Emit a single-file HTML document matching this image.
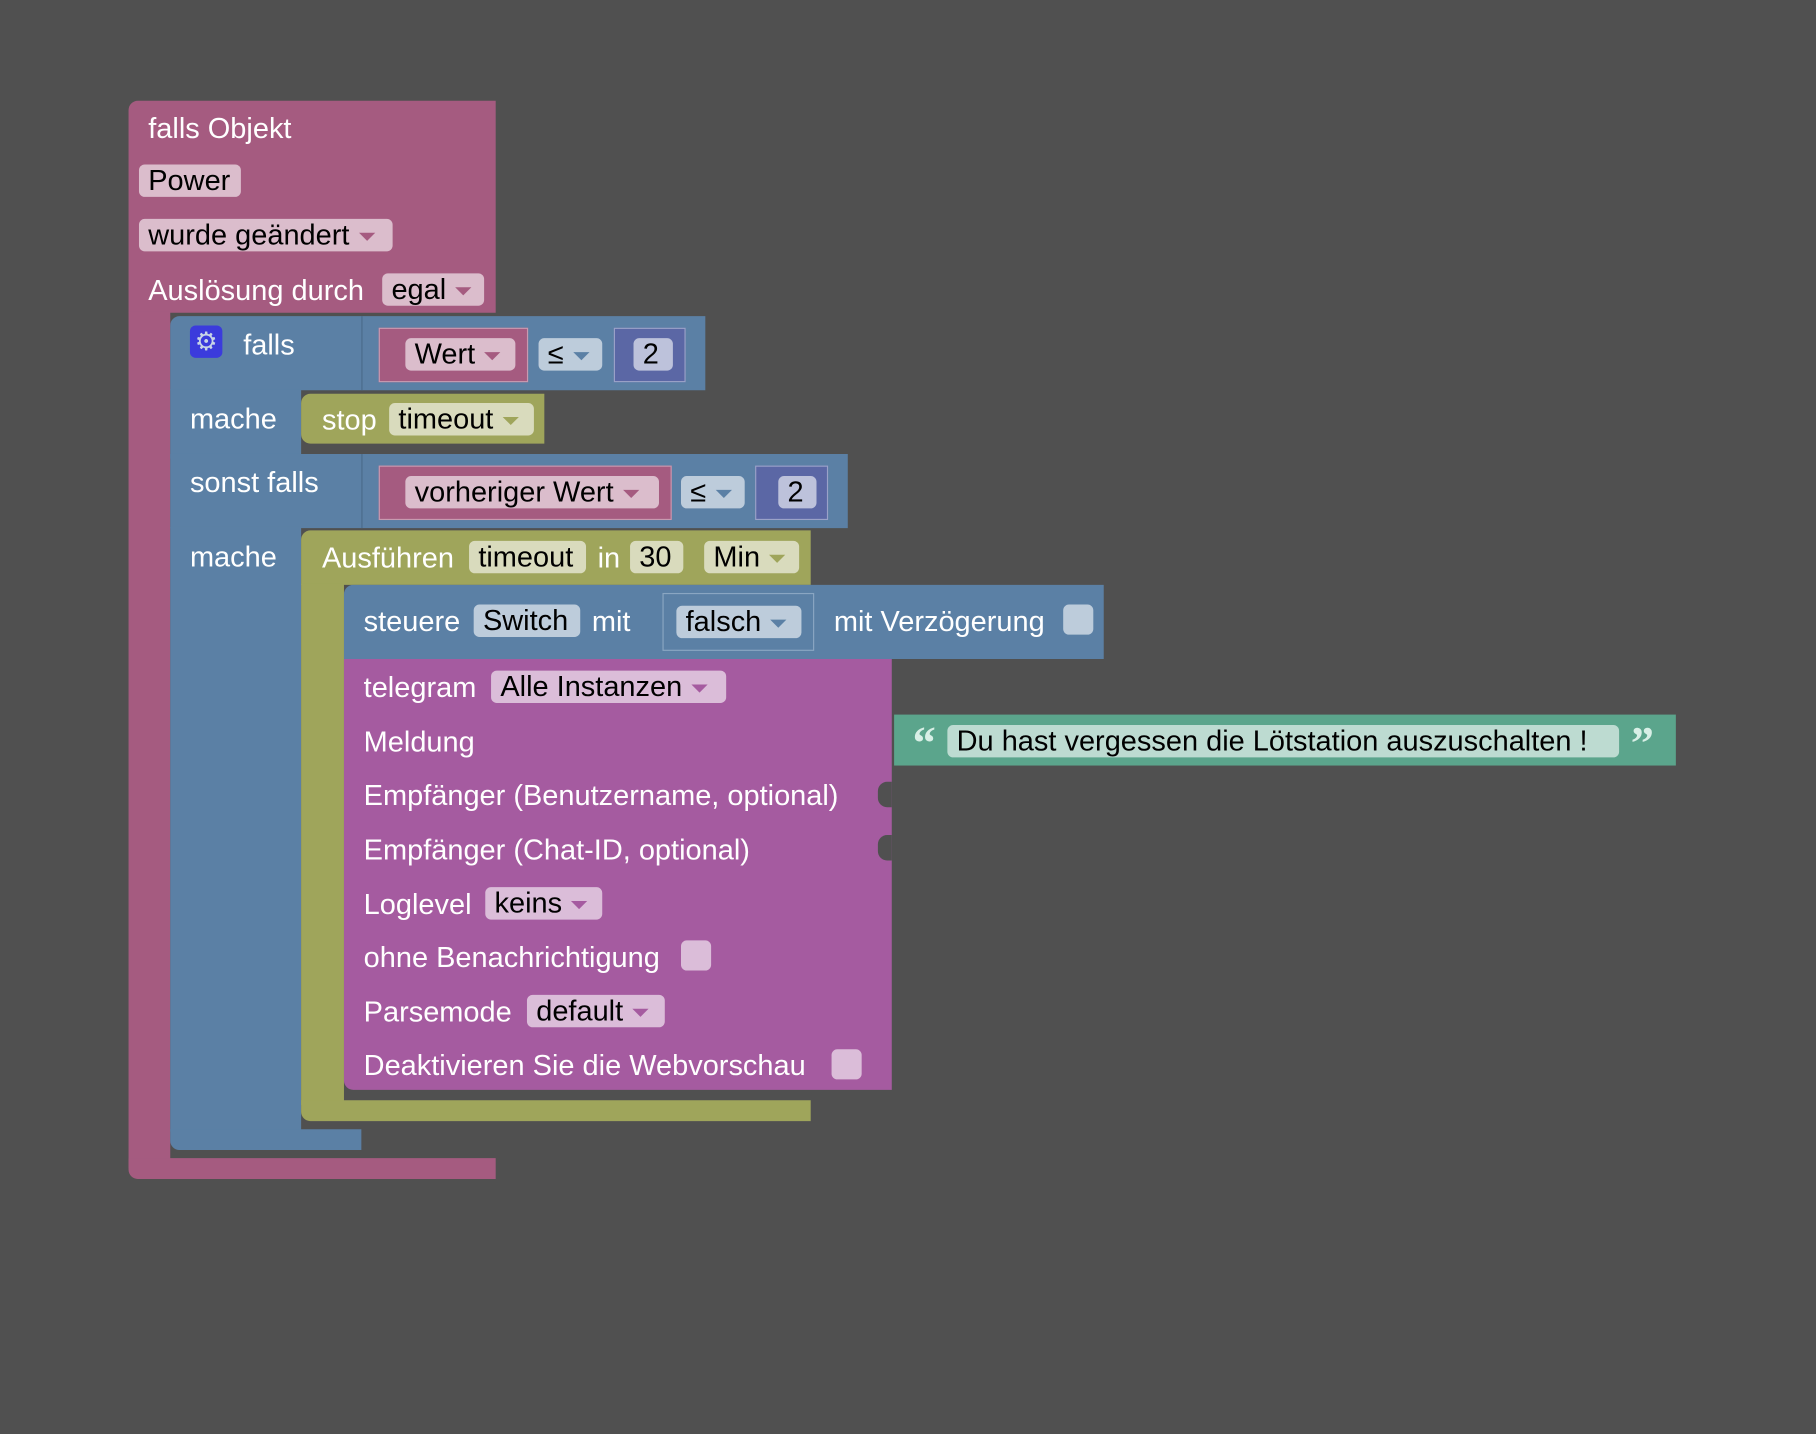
<!DOCTYPE html>
<html><head><meta charset="utf-8"><style>
html,body{margin:0;padding:0;background:#505050;width:1816px;height:1434px;overflow:hidden}
#s{position:absolute;left:0;top:0;width:1568px;height:1238px;transform:scale(1.15816);transform-origin:0 0;font-family:"Liberation Sans",sans-serif;font-size:25px;color:#fff}
.r{position:absolute}
.t{position:absolute;white-space:nowrap;line-height:30px}
.f{position:absolute;border-radius:5px;color:#000;line-height:29px;height:28px;padding-left:8px;box-sizing:border-box;white-space:nowrap}
.a{display:inline-block;width:0;height:0;border-left:7px solid transparent;border-right:7px solid transparent;margin-left:8px;vertical-align:middle}
.pk{background:#a55b80}.bl{background:#5b80a5}.ol{background:#9fa55b}.pu{background:#a55ba0}.te{background:#5ba58c}.nb{background:#5b67a5}
.fp{background:#dbbdcc}.fb{background:#bdccdb}.fo{background:#d9dbbd}.fu{background:#dbbdd9}.ft{background:#bddbd1}.fn{background:#bdc2db}
.cb{position:absolute;width:26px;height:26px;border-radius:5px}
.q{position:absolute;font-family:"Liberation Serif",serif;font-size:40px;font-weight:bold;color:#d8efe6;line-height:40px}
</style></head><body><div id="s">
<div class="r pk" style="left:111px;top:87px;width:317px;height:183px;border-radius:8px 0 0 0"></div>
<div class="r pk" style="left:111px;top:269px;width:36px;height:740px"></div>
<div class="r pk" style="left:111px;top:1000px;width:317px;height:18px;border-radius:0 0 0 8px"></div>
<div class="t" style="left:128px;top:96px">falls Objekt</div>
<div class="f fp" style="left:120px;top:142px;width:88px">Power</div>
<div class="f fp" style="left:120px;top:189px;width:219px">wurde geändert<span class="a" style="border-top:7px solid #a55b80"></span></div>
<div class="t" style="left:128px;top:236px">Auslösung durch</div>
<div class="f fp" style="left:330px;top:236px;width:88px">egal<span class="a" style="border-top:7px solid #a55b80"></span></div>
<div class="r bl" style="left:147px;top:273px;width:462px;height:64px;border-radius:8px 0 0 0"></div>
<div class="r bl" style="left:147px;top:336px;width:113px;height:60px"></div>
<div class="r bl" style="left:147px;top:392px;width:585px;height:64px"></div>
<div class="r bl" style="left:147px;top:455px;width:113px;height:522px"></div>
<div class="r bl" style="left:147px;top:975px;width:165px;height:18px;border-radius:0 0 0 8px"></div>
<div class="r" style="left:312px;top:273px;width:1px;height:64px;background:#4a6a8a"></div>
<div class="r" style="left:312px;top:392px;width:1px;height:64px;background:#4a6a8a"></div>
<div class="r" style="left:164px;top:281px;width:28px;height:28px;background:#3b3bdc;border-radius:5px;color:#c8d5e6;text-align:center;line-height:28px;font-size:22px">⚙</div>
<div class="t" style="left:210px;top:283px">falls</div>
<div class="t" style="left:164px;top:347px">mache</div>
<div class="t" style="left:164px;top:402px">sonst falls</div>
<div class="t" style="left:164px;top:466px">mache</div>
<div class="r pk" style="left:327px;top:283px;width:129px;height:47px;border:1px solid #c89ab0;box-sizing:border-box"></div>
<div class="f fp" style="left:350px;top:292px;width:95px">Wert<span class="a" style="border-top:7px solid #a55b80"></span></div>
<div class="f fb" style="left:465px;top:292px;width:55px">≤<span class="a" style="border-top:7px solid #5b80a5"></span></div>
<div class="r nb" style="left:530px;top:283px;width:62px;height:47px;border:1px solid #9aa2c8;box-sizing:border-box"></div>
<div class="f fn" style="left:547px;top:292px;width:34px">2</div>
<div class="r pk" style="left:327px;top:402px;width:253px;height:47px;border:1px solid #c89ab0;box-sizing:border-box"></div>
<div class="f fp" style="left:350px;top:411px;width:219px">vorheriger Wert<span class="a" style="border-top:7px solid #a55b80"></span></div>
<div class="f fb" style="left:588px;top:411px;width:55px">≤<span class="a" style="border-top:7px solid #5b80a5"></span></div>
<div class="r nb" style="left:652px;top:402px;width:63px;height:47px;border:1px solid #9aa2c8;box-sizing:border-box"></div>
<div class="f fn" style="left:672px;top:411px;width:33px">2</div>
<div class="r ol" style="left:260px;top:340px;width:210px;height:43px;border-radius:8px 0 0 8px"></div>
<div class="t" style="left:278px;top:348px">stop</div>
<div class="f fo" style="left:336px;top:348px;width:125px">timeout<span class="a" style="border-top:7px solid #9fa55b"></span></div>
<div class="r ol" style="left:260px;top:458px;width:440px;height:47px;border-radius:8px 0 0 0"></div>
<div class="r ol" style="left:260px;top:504px;width:37px;height:450px"></div>
<div class="r ol" style="left:260px;top:950px;width:440px;height:18px;border-radius:0 0 0 8px"></div>
<div class="t" style="left:278px;top:467px">Ausführen</div>
<div class="f fo" style="left:405px;top:467px;width:101px">timeout</div>
<div class="t" style="left:516px;top:467px">in</div>
<div class="f fo" style="left:544px;top:467px;width:46px">30</div>
<div class="f fo" style="left:608px;top:467px;width:82px">Min<span class="a" style="border-top:7px solid #9fa55b"></span></div>
<div class="r bl" style="left:297px;top:505px;width:656px;height:64px;border-radius:8px 0 0 0"></div>
<div class="t" style="left:314px;top:522px">steuere</div>
<div class="f fb" style="left:409px;top:522px;width:92px">Switch</div>
<div class="t" style="left:511px;top:522px">mit</div>
<div class="r bl" style="left:572px;top:512px;width:131px;height:50px;border:1px solid #8aa6c2;box-sizing:border-box"></div>
<div class="f fb" style="left:584px;top:523px;width:108px">falsch<span class="a" style="border-top:7px solid #5b80a5"></span></div>
<div class="t" style="left:720px;top:522px">mit Verzögerung</div>
<div class="cb fb" style="left:918px;top:522px"></div>
<div class="r pu" style="left:297px;top:569px;width:473px;height:372px;border-radius:0 0 0 8px"></div>
<div class="t" style="left:314px;top:579px">telegram</div>
<div class="f fu" style="left:424px;top:579px;width:203px">Alle Instanzen<span class="a" style="border-top:7px solid #a55ba0"></span></div>
<div class="t" style="left:314px;top:626px">Meldung</div>
<div class="t" style="left:314px;top:672px">Empfänger (Benutzername, optional)</div>
<div class="t" style="left:314px;top:719px">Empfänger (Chat-ID, optional)</div>
<div class="t" style="left:314px;top:766px">Loglevel</div>
<div class="f fu" style="left:419px;top:766px;width:101px">keins<span class="a" style="border-top:7px solid #a55ba0"></span></div>
<div class="t" style="left:314px;top:812px">ohne Benachrichtigung</div>
<div class="cb fu" style="left:588px;top:812px"></div>
<div class="t" style="left:314px;top:859px">Parsemode</div>
<div class="f fu" style="left:455px;top:859px;width:119px">default<span class="a" style="border-top:7px solid #a55ba0"></span></div>
<div class="t" style="left:314px;top:905px">Deaktivieren Sie die Webvorschau</div>
<div class="cb fu" style="left:718px;top:906px"></div>
<div class="r" style="left:758px;top:675px;width:12px;height:22px;background:#505050;border-radius:8px 0 0 8px"></div>
<div class="r" style="left:758px;top:721px;width:12px;height:22px;background:#505050;border-radius:8px 0 0 8px"></div>
<div class="r te" style="left:772px;top:617px;width:675px;height:44px"></div>
<div class="q" style="left:788px;top:622px">“</div>
<div class="f ft" style="left:818px;top:626px;width:580px">Du hast vergessen die Lötstation auszuschalten !</div>
<div class="q" style="left:1408px;top:622px">”</div>
</div></body></html>
